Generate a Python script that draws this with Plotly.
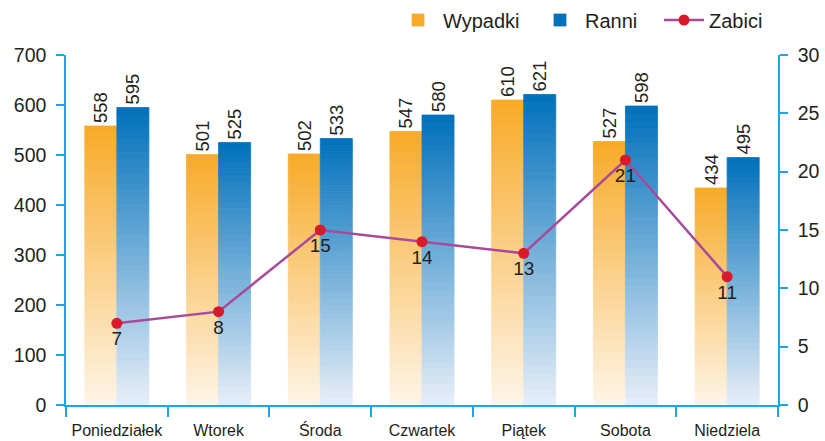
import plotly.graph_objects as go

days = ["Poniedziałek", "Wtorek", "Środa", "Czwartek", "Piątek", "Sobota", "Niedziela"]
wypadki = [558, 501, 502, 547, 610, 527, 434]
ranni = [595, 525, 533, 580, 621, 598, 495]
zabici = [7, 8, 15, 14, 13, 21, 11]

FONT = "Liberation Sans, Arial, sans-serif"
TXT = "#231f20"
AXC = "#1ba6e6"

def lerp(c1, c2, t):
    return "rgb(%d,%d,%d)" % tuple(round(a + (b - a) * t) for a, b in zip(c1, c2))

N = 40
series = [
    ("Wypadki", wypadki, (254, 245, 232), (248, 170, 40), "w", "legend"),
    ("Ranni", ranni, (232, 239, 248), (0, 112, 187), "r", "legend2"),
]

fig = go.Figure()
for name, vals, cbot, ctop, og, lg in series:
    for i in range(N):
        t = (i + 0.5) / N
        top = i == N - 1
        col = lerp(cbot, ctop, t)
        fig.add_trace(go.Bar(
            x=days,
            y=[v / N for v in vals],
            base=[v * i / N for v in vals],
            marker=dict(color=col, line=dict(width=0.8, color=col)),
            offsetgroup=og,
            name=name,
            legend=lg,
            showlegend=top,
            text=[str(v) for v in vals] if top else None,
            textposition="outside" if top else "none",
            textangle=-90,
            constraintext="none",
            cliponaxis=False,
            textfont=dict(family=FONT, size=18.5, color=TXT),
            hoverinfo="skip" if not top else None,
        ))

fig.add_trace(go.Scatter(
    x=days, y=zabici, yaxis="y2", name="Zabici", legend="legend3",
    mode="lines+markers+text",
    line=dict(color="#a8499c", width=2.5),
    marker=dict(color="#d91a2a", size=11),
    text=[str(v) for v in zabici],
    textposition="bottom center",
    textfont=dict(family=FONT, size=19, color=TXT),
    cliponaxis=False,
))

def leg(xpx):
    return dict(x=(xpx - 66) / 712, xanchor="left", y=1 + (55 - 20) / 350, yanchor="middle",
                font=dict(size=20), itemwidth=40, bgcolor="rgba(0,0,0,0)")

fig.update_layout(
    width=825, height=441,
    margin=dict(l=66, r=47, t=55, b=36, autoexpand=False),
    paper_bgcolor="white", plot_bgcolor="white",
    barmode="group", bargap=0.37, bargroupgap=0,
    font=dict(family=FONT, color=TXT, size=18),
    showlegend=True,
    legend=leg(393),
    legend2=leg(535),
    legend3=leg(659),
    xaxis=dict(type="category", showline=True, linecolor=AXC, linewidth=1.5,
               ticks="outside", ticklen=10, tickcolor=AXC, tickwidth=1.5,
               tickson="boundaries", showgrid=False, zeroline=False,
               ticklabelstandoff=10,
               tickfont=dict(size=16), range=[-0.5, 6.5]),
    yaxis=dict(range=[0, 700], dtick=100, showline=True, linecolor=AXC, linewidth=1.5,
               ticks="outside", ticklen=8, tickcolor=AXC, tickwidth=1.5,
               showgrid=False, zeroline=False, ticklabelstandoff=6,
               tickfont=dict(size=19.5)),
    yaxis2=dict(range=[0, 30], dtick=5, overlaying="y", side="right", anchor="x",
                showline=True, linecolor=AXC, linewidth=1.5,
                ticks="outside", ticklen=8, tickcolor=AXC, tickwidth=1.5,
                showgrid=False, zeroline=False, ticklabelstandoff=6,
                tickfont=dict(size=19.5)),
)

fig.write_html("out.html", config={"displayModeBar": False},
               post_script="document.body.style.margin='0';document.body.style.overflow='hidden';")
